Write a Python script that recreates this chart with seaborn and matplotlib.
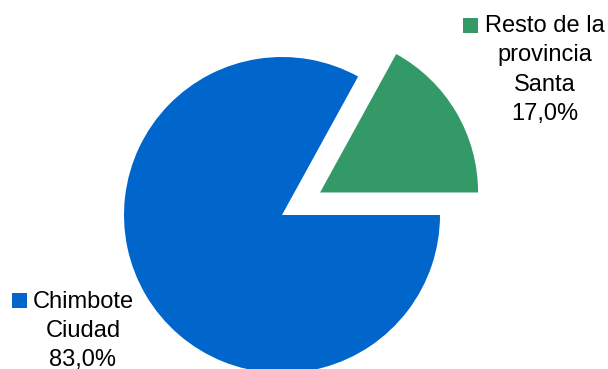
import matplotlib
matplotlib.use("Agg")
import matplotlib.pyplot as plt
import seaborn as sns
from matplotlib.patches import Rectangle

sns.set_theme(style="white")
plt.rcParams["font.family"] = ["Liberation Sans", "DejaVu Sans"]

# Share of population
categories = ["Resto de la\nprovincia\nSanta", "Chimbote\nCiudad"]
shares = [17.0, 83.0]
colors = ["#339966", "#0066CC"]
explode = [0.28, 0.0]

W, H = 608, 369
fig = plt.figure(figsize=(W / 100, H / 100), dpi=100)
fig.patch.set_facecolor("white")
ax = fig.add_axes([0, 0, 1, 1])

ax.pie(shares, colors=colors, explode=explode, startangle=0,
       counterclock=True, radius=1.0,
       wedgeprops=dict(linewidth=0))

# pie centre at pixel (282, 215), radius 158 px
cx, cy, r = 282, 215, 158
ax.set_xlim(-cx / r, (W - cx) / r)
ax.set_ylim((cy - H) / r, cy / r)
ax.set_aspect("equal")
ax.axis("off")


def pct(v):
    return f"{v:.1f}".replace(".", ",") + "%"


# labels with legend-style colour keys
label_pos = [(545, 70), (83, 331)]
key_pos = [(463, 18), (12, 293)]
for cat, val, col, (tx, ty), (kx, ky) in zip(categories, shares, colors,
                                               label_pos, key_pos):
    fig.text(tx / W, 1 - ty / H, f"{cat}\n{pct(val)}", ha="center",
             va="center", fontsize=17, color="#000000", linespacing=1.42)
    fig.patches.append(Rectangle((kx / W, 1 - (ky + 15) / H), 15 / W, 15 / H,
                                 transform=fig.transFigure, facecolor=col,
                                 edgecolor="none"))

fig.savefig("out.png", dpi=100, facecolor="white")
